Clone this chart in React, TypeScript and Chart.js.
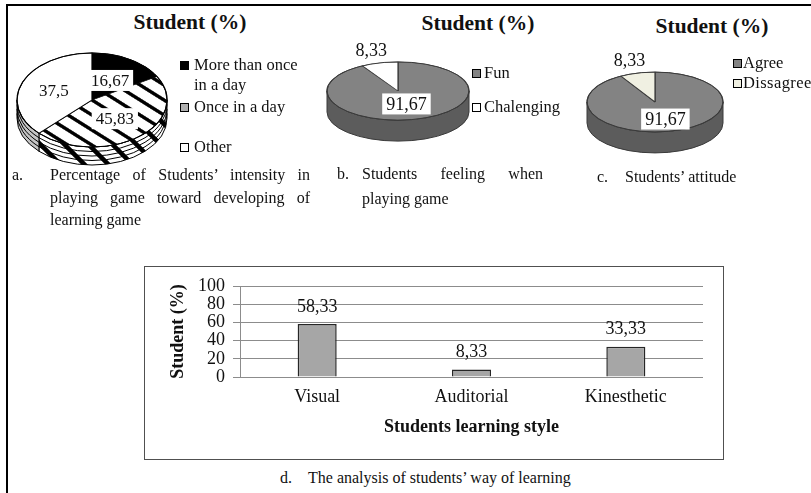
import React, { useEffect, useRef } from 'react';
import { Chart, registerables } from 'chart.js';

Chart.register(...registerables);

// ---------------- data ----------------
const intensityLabels = ['More than once in a day', 'Once in a day', 'Other'];
const intensityValues = [16.67, 45.83, 37.5];
const feelingLabels = ['Fun', 'Chalenging'];
const feelingValues = [91.67, 8.33];
const attitudeLabels = ['Agree', 'Dissagree'];
const attitudeValues = [91.67, 8.33];
const styleLabels = ['Visual', 'Auditorial', 'Kinesthetic'];
const styleValues = [58.33, 8.33, 33.33];
const studentTicks = [0, 20, 40, 60, 80, 100];

const SERIF = '"Liberation Serif", "Times New Roman", Times, serif';
const INK = '#111';
const fmt = (v: number) => String(v).replace('.', ',');

function hatchPattern(): any {
  const s = 24;
  const c = document.createElement('canvas');
  c.width = s;
  c.height = s;
  const g = c.getContext('2d');
  if (!g) return '#fff';
  g.fillStyle = '#fff';
  g.fillRect(0, 0, s, s);
  g.strokeStyle = '#000';
  g.lineWidth = 4.5;
  g.beginPath();
  g.moveTo(-6, -6);
  g.lineTo(s + 6, s + 6);
  g.moveTo(-6, s - 6);
  g.lineTo(6, s + 6);
  g.moveTo(s - 6, -6);
  g.lineTo(s + 6, 6);
  g.stroke();
  return g.createPattern(c, 'repeat') || '#fff';
}

type Pie3dCfg = {
  tilt: number;
  depth: number;
  side: any[];
  edge: string;
  rings: number;
  labelR: number[];
  font: string;
};

function makePie3d(cfg: Pie3dCfg) {
  let saved = false;
  return {
    id: 'pie3d',
    beforeDatasetsDraw(chart: any) {
      saved = false;
      const arcs = chart.getDatasetMeta(0).data as any[];
      if (!arcs.length) return;
      const { x: cx, y: cy, outerRadius: r } = arcs[0];
      const ctx = chart.ctx as CanvasRenderingContext2D;
      const k = cfg.tilt;
      const d = cfg.depth;
      ctx.save();
      ctx.lineWidth = 1;
      ctx.strokeStyle = cfg.edge;
      arcs.forEach((arc: any, i: number) => {
        const a0 = Math.max(arc.startAngle, 0);
        const a1 = Math.min(arc.endAngle, Math.PI);
        if (a1 <= a0) return;
        ctx.beginPath();
        ctx.ellipse(cx, cy, r, r * k, 0, a0, a1, false);
        ctx.ellipse(cx, cy + d, r, r * k, 0, a1, a0, true);
        ctx.closePath();
        ctx.fillStyle = cfg.side[i];
        ctx.fill();
        ctx.stroke();
      });
      for (let j = 1; j <= cfg.rings; j++) {
        ctx.beginPath();
        ctx.ellipse(cx, cy + (d * j) / (cfg.rings + 1), r, r * k, 0, 0, Math.PI, false);
        ctx.stroke();
      }
      ctx.restore();
      ctx.save();
      ctx.translate(cx, cy);
      ctx.scale(1, k);
      ctx.translate(-cx, -cy);
      saved = true;
    },
    afterDatasetsDraw(chart: any) {
      if (!saved) return;
      const ctx = chart.ctx as CanvasRenderingContext2D;
      ctx.restore();
      saved = false;
      const arcs = chart.getDatasetMeta(0).data as any[];
      const values = chart.data.datasets[0].data as number[];
      const { x: cx, y: cy, outerRadius: r } = arcs[0];
      const k = cfg.tilt;
      ctx.save();
      ctx.lineWidth = 1;
      ctx.strokeStyle = cfg.edge;
      ctx.beginPath();
      ctx.ellipse(cx, cy, r, r * k, 0, 0, Math.PI * 2);
      ctx.stroke();
      ctx.font = cfg.font;
      ctx.textAlign = 'center';
      ctx.textBaseline = 'middle';
      arcs.forEach((arc: any, i: number) => {
        const mid = (arc.startAngle + arc.endAngle) / 2;
        const f = cfg.labelR[i];
        const x = cx + Math.cos(mid) * r * f;
        const y = cy + Math.sin(mid) * r * k * f;
        const txt = fmt(values[i]);
        const w = ctx.measureText(txt).width;
        ctx.fillStyle = '#fff';
        ctx.fillRect(x - w / 2 - 4, y - 10.5, w + 8, 21);
        ctx.fillStyle = INK;
        ctx.fillText(txt, x, y + 1);
      });
      ctx.restore();
    },
  };
}

type PieProps = {
  left: number;
  top: number;
  size: number;
  radius: number;
  labels: string[];
  values: number[];
  colors: () => { bg: any[]; side: any[] };
  border: string;
  borderWidth: number;
  cfg: Omit<Pie3dCfg, 'side'>;
};

function Pie3D(p: PieProps) {
  const ref = useRef<HTMLCanvasElement>(null);
  useEffect(() => {
    const canvas = ref.current;
    if (!canvas) return;
    const { bg, side } = p.colors();
    const chart = new Chart(canvas, {
      type: 'pie',
      data: {
        labels: p.labels,
        datasets: [
          {
            data: p.values,
            backgroundColor: bg,
            borderColor: p.border,
            borderWidth: p.borderWidth,
            hoverOffset: 0,
            radius: p.radius,
            clip: false,
          } as any,
        ],
      },
      options: {
        animation: false,
        responsive: false,
        events: [],
        radius: p.radius,
        rotation: 0,
        layout: { padding: 0 },
        plugins: {
          legend: { display: false },
          tooltip: { enabled: false },
          title: { display: false },
        },
      } as any,
      plugins: [makePie3d({ ...p.cfg, side })],
    });
    return () => chart.destroy();
  }, []);
  return (
    <canvas
      ref={ref}
      width={p.size}
      height={p.size}
      style={{ position: 'absolute', left: p.left, top: p.top, width: p.size, height: p.size }}
    />
  );
}

const barLabelPlugin = {
  id: 'barLabels',
  afterDatasetsDraw(chart: any) {
    const ctx = chart.ctx as CanvasRenderingContext2D;
    const meta = chart.getDatasetMeta(0);
    const values = chart.data.datasets[0].data as number[];
    ctx.save();
    ctx.font = `18px ${SERIF}`;
    ctx.fillStyle = INK;
    ctx.textAlign = 'center';
    ctx.textBaseline = 'middle';
    meta.data.forEach((bar: any, i: number) => {
      ctx.fillText(fmt(values[i]), bar.x, bar.y - 17);
    });
    ctx.restore();
  },
};

function BarChart() {
  const ref = useRef<HTMLCanvasElement>(null);
  useEffect(() => {
    const canvas = ref.current;
    if (!canvas) return;
    const chart = new Chart(canvas, {
      type: 'bar',
      data: {
        labels: styleLabels,
        datasets: [
          {
            data: styleValues,
            backgroundColor: '#a6a6a6',
            borderColor: '#262626',
            borderWidth: 1.5,
            barPercentage: 0.253,
            categoryPercentage: 1,
          },
        ],
      },
      options: {
        animation: false,
        responsive: false,
        events: [],
        layout: { padding: { top: 20, right: 21, left: 0, bottom: 0 } },
        plugins: { legend: { display: false }, tooltip: { enabled: false } },
        scales: {
          x: {
            grid: { display: false, drawTicks: false },
            border: { display: false },
            ticks: { font: { family: SERIF, size: 18 }, color: INK, padding: 9, autoSkip: false },
            title: {
              display: true,
              text: 'Students learning style',
              font: { family: SERIF, size: 18, weight: 'bold' },
              color: INK,
              padding: { top: 0, bottom: 22 },
            },
            afterFit: (s: any) => {
              s.height = 83;
            },
          },
          y: {
            min: 0,
            max: 100,
            afterBuildTicks: (s: any) => {
              s.ticks = studentTicks.map((v) => ({ value: v }));
            },
            ticks: { font: { family: SERIF, size: 18 }, color: INK, padding: 8, autoSkip: false },
            grid: { color: '#8c8c8c', lineWidth: 1, drawTicks: true, tickLength: 7 },
            border: { display: true, color: '#8c8c8c' },
            title: {
              display: true,
              text: 'Student (%)',
              font: { family: SERIF, size: 18, weight: 'bold' },
              color: INK,
              padding: { top: 24, bottom: 0 },
            },
            afterFit: (s: any) => {
              s.width = 96;
            },
          },
        },
      } as any,
      plugins: [barLabelPlugin],
    });
    return () => chart.destroy();
  }, []);
  return (
    <canvas
      ref={ref}
      width={580}
      height={194}
      style={{ position: 'absolute', left: 144, top: 266, width: 580, height: 194 }}
    />
  );
}

function Txt(props: { left: number; top: number; children: any; style?: any }) {
  return (
    <div
      style={{
        position: 'absolute',
        left: props.left,
        top: props.top,
        fontFamily: SERIF,
        fontSize: 16,
        lineHeight: '20px',
        color: INK,
        whiteSpace: 'nowrap',
        ...props.style,
      }}
    >
      {props.children}
    </div>
  );
}

function Sq(props: { left: number; cy: number; color: string }) {
  return (
    <div
      style={{
        position: 'absolute',
        left: props.left,
        top: props.cy - 4.5,
        width: 9,
        height: 9,
        boxSizing: 'border-box',
        border: '1px solid #000',
        background: props.color,
      }}
    />
  );
}

function Title(props: { cx: number; cy: number }) {
  return (
    <div
      style={{
        position: 'absolute',
        left: props.cx - 100,
        top: props.cy - 13,
        width: 200,
        textAlign: 'center',
        fontFamily: SERIF,
        fontWeight: 'bold',
        fontSize: 21.5,
        lineHeight: '26px',
        color: INK,
      }}
    >
      Student (%)
    </div>
  );
}

export default function App() {
  return (
    <div
      style={{
        position: 'fixed',
        left: 0,
        top: 0,
        width: 811,
        height: 493,
        overflow: 'hidden',
        background: '#fff',
      }}
    >
      {/* outer frame */}
      <div
        style={{
          position: 'absolute',
          left: 6,
          top: 4,
          width: 900,
          height: 600,
          borderTop: '2px solid #000',
          borderLeft: '2px solid #000',
        }}
      />

      {/* ---- panel a ---- */}
      <Title cx={190} cy={22} />
      <Pie3D
        left={2}
        top={10}
        size={180}
        radius={75}
        labels={intensityLabels}
        values={intensityValues}
        colors={() => {
          const h = hatchPattern();
          return { bg: ['#000', h, '#fff'], side: ['#000', h, '#c4c4c4'] };
        }}
        border="#000"
        borderWidth={1.2}
        cfg={{ tilt: 0.627, depth: 18, edge: '#000', rings: 3, labelR: [0.48, 0.5, 0.55], font: `17px ${SERIF}` }}
      />
      <Sq left={180} cy={65} color="#000" />
      <Txt left={194} top={55} style={{ fontSize: 16.5 }}>
        More than once
        <br />
        in a day
      </Txt>
      <Sq left={180} cy={107} color="#b0b0b0" />
      <Txt left={194} top={97} style={{ fontSize: 16.5 }}>
        Once in a day
      </Txt>
      <Sq left={180} cy={147} color="#fff" />
      <Txt left={194} top={137} style={{ fontSize: 16.5 }}>
        Other
      </Txt>
      <Txt left={12} top={164} style={{ lineHeight: '22.5px' }}>
        a.
      </Txt>
      <Txt
        left={50}
        top={164}
        style={{ width: 260, whiteSpace: 'normal', textAlign: 'justify', lineHeight: '22.5px' }}
      >
        Percentage of Students’ intensity in playing game toward developing of learning game
      </Txt>

      {/* ---- panel b ---- */}
      <Title cx={478} cy={23} />
      <Pie3D
        left={308}
        top={1}
        size={180}
        radius={71}
        labels={feelingLabels}
        values={feelingValues}
        colors={() => ({ bg: ['#838383', '#ffffff'], side: ['#5c5c5c', '#d0d0d0'] })}
        border="#3a3a3a"
        borderWidth={1.2}
        cfg={{ tilt: 0.41, depth: 21, edge: '#3a3a3a', rings: 0, labelR: [0.46, 1.45], font: `18px ${SERIF}` }}
      />
      <Sq left={472} cy={73} color="#838383" />
      <Txt left={484} top={63} style={{ fontSize: 16.5 }}>
        Fun
      </Txt>
      <Sq left={472} cy={107} color="#fff" />
      <Txt left={484} top={97} style={{ fontSize: 16.5 }}>
        Chalenging
      </Txt>
      <Txt left={337} top={160.5} style={{ lineHeight: '25px' }}>
        b.
      </Txt>
      <Txt
        left={362}
        top={160.5}
        style={{ width: 181, whiteSpace: 'normal', textAlign: 'justify', lineHeight: '25px' }}
      >
        Students feeling when playing game
      </Txt>

      {/* ---- panel c ---- */}
      <Title cx={712} cy={26} />
      <Pie3D
        left={565}
        top={12}
        size={180}
        radius={68}
        labels={attitudeLabels}
        values={attitudeValues}
        colors={() => ({ bg: ['#838383', '#f0f0e2'], side: ['#5c5c5c', '#cfcfc0'] })}
        border="#3a3a3a"
        borderWidth={1.2}
        cfg={{ tilt: 0.44, depth: 21, edge: '#3a3a3a', rings: 0, labelR: [0.59, 1.45], font: `18px ${SERIF}` }}
      />
      <Sq left={733} cy={63} color="#838383" />
      <Txt left={743} top={53} style={{ fontSize: 16.5 }}>
        Agree
      </Txt>
      <Sq left={733} cy={83} color="#f0f0e2" />
      <Txt left={743} top={73} style={{ fontSize: 16.5, letterSpacing: 0.4 }}>
        Dissagree
      </Txt>
      <Txt left={597} top={166} style={{ lineHeight: '22px' }}>
        c.
      </Txt>
      <Txt left={625} top={166} style={{ lineHeight: '22px' }}>
        Students’ attitude
      </Txt>

      {/* ---- panel d ---- */}
      <div
        style={{
          position: 'absolute',
          left: 144,
          top: 266,
          width: 580,
          height: 194,
          boxSizing: 'border-box',
          border: '1.5px solid #505050',
        }}
      />
      <BarChart />
      <Txt left={280} top={467} style={{ lineHeight: '22px' }}>
        d.
      </Txt>
      <Txt left={308} top={467} style={{ lineHeight: '22px' }}>
        The analysis of students’ way of learning
      </Txt>
    </div>
  );
}
